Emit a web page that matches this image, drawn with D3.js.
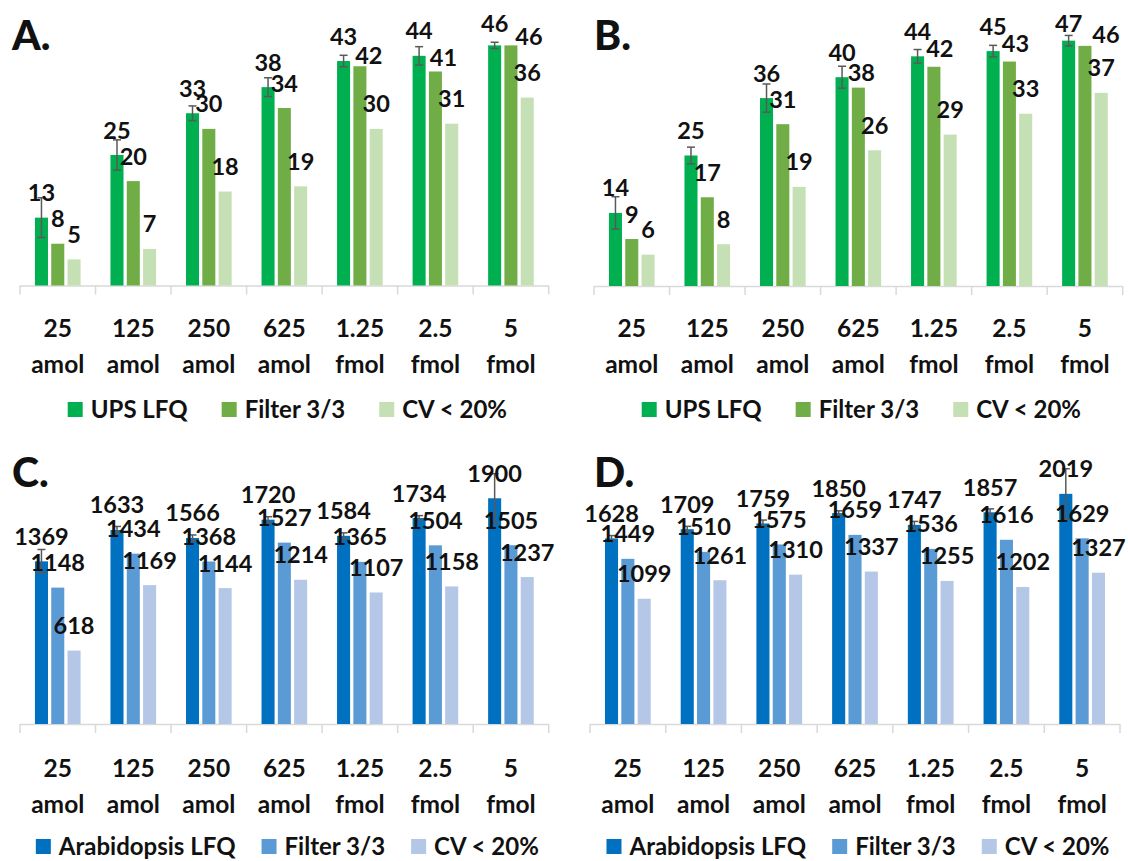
<!DOCTYPE html>
<html>
<head>
<meta charset="utf-8">
<script src="https://cdn.jsdelivr.net/npm/d3@7"></script>
<style>
  html, body { margin: 0; padding: 0; background: #fff; }
  svg { display: block; }
</style>
</head>
<body>
<svg id="chart" width="1128" height="861"></svg>
<script>
// ---------- data ----------
const catTop = ["25", "125", "250", "625", "1.25", "2.5", "5"];
const catBottom = ["amol", "amol", "amol", "amol", "fmol", "fmol", "fmol"];

const seriesNamesUPS = ["UPS LFQ", "Filter 3/3", "CV < 20%"];
const seriesNamesAra = ["Arabidopsis LFQ", "Filter 3/3", "CV < 20%"];

// Panel A
const aLFQ    = [13, 25, 33, 38, 43, 44, 46];
const aFilter = [8, 20, 30, 34, 42, 41, 46];
const aCV     = [5, 7, 18, 19, 30, 31, 36];
const aErr    = [3.8, 2.9, 1.4, 1.8, 1.1, 1.75, 0.6];

// Panel B
const bLFQ    = [14, 25, 36, 40, 44, 45, 47];
const bFilter = [9, 17, 31, 38, 42, 43, 46];
const bCV     = [6, 8, 19, 26, 29, 33, 37];
const bErr    = [3.1, 1.6, 2.7, 2.1, 1.3, 1.1, 1.0];

// Panel C
const cLFQ    = [1369, 1633, 1566, 1720, 1584, 1734, 1900];
const cFilter = [1148, 1434, 1368, 1527, 1365, 1504, 1505];
const cCV     = [618, 1169, 1144, 1214, 1107, 1158, 1237];
const cErr    = [100, 30, 25, 25, 25, 20, 207];

// Panel D
const dLFQ    = [1628, 1709, 1759, 1850, 1747, 1857, 2019];
const dFilter = [1449, 1510, 1575, 1659, 1536, 1616, 1629];
const dCV     = [1099, 1261, 1310, 1337, 1255, 1202, 1327];
const dErr    = [25, 25, 30, 20, 30, 30, 220];

// ---------- styling / layout ----------
const greens = ["#00b050", "#70ad47", "#c5e0b4"];
const blues  = ["#0070c0", "#5b9bd5", "#b4c7e7"];
const FONT = "Lato, 'Open Sans', sans-serif";

// manual label nudges (series index 1 = Filter) [dx, dy] per category
const nudgeA = {1: {4: [9, 14], 5: [8, 11], 6: [18, 16]}};
const nudgeB = {1: {3: [3, 10], 4: [6, 7], 5: [6, 7], 6: [21, 14]}};

const panels = [
  {letter: "A.", lx: 12, ly: 50, x0: 20, x1: 548.7, axisY: 285.5, yMax: 50, yPx: 261,
   series: [aLFQ, aFilter, aCV], err: aErr, colors: greens, names: seriesNamesUPS,
   nudge: nudgeA, minBase: 32, catY: 337, legY: 410, legGap: 34},
  {letter: "B.", lx: 594, ly: 50, x0: 594, x1: 1122.7, axisY: 286, yMax: 50, yPx: 261,
   series: [bLFQ, bFilter, bCV], err: bErr, colors: greens, names: seriesNamesUPS,
   nudge: nudgeB, minBase: 32, catY: 337, legY: 410, legGap: 34},
  {letter: "C.", lx: 12, ly: 487, x0: 20, x1: 548.7, axisY: 724, yMax: 2000, yPx: 237.6,
   series: [cLFQ, cFilter, cCV], err: cErr, colors: blues, names: seriesNamesAra,
   nudge: {}, minBase: 470, catY: 777, legY: 847, legGap: 26},
  {letter: "D.", lx: 594, ly: 487, x0: 590, x1: 1120, axisY: 724, yMax: 2000, yPx: 228,
   series: [dLFQ, dFilter, dCV], err: dErr, colors: blues, names: seriesNamesAra,
   nudge: {}, minBase: 470, catY: 777, legY: 847, legGap: 26}
];

const svg = d3.select("#chart");

panels.forEach(p => {
  const g = svg.append("g");
  const x = d3.scaleBand().domain(catTop).range([p.x0, p.x1]).paddingInner(0).paddingOuter(0);
  const xs = d3.scaleBand().domain([0, 1, 2]).range([0, x.bandwidth()])
    .paddingInner(0.2).paddingOuter(0.917);
  const y = d3.scaleLinear().domain([0, p.yMax]).range([p.axisY, p.axisY - p.yPx]);

  // axis line + boundary ticks
  g.append("line").attr("x1", p.x0).attr("x2", p.x1)
    .attr("y1", p.axisY + 0.5).attr("y2", p.axisY + 0.5)
    .attr("stroke", "#d9d9d9").attr("stroke-width", 1.5);
  const bounds = catTop.map(c => x(c)).concat([p.x1]);
  g.selectAll(".tk").data(bounds).enter().append("line")
    .attr("x1", d => d).attr("x2", d => d)
    .attr("y1", p.axisY).attr("y2", p.axisY + 9)
    .attr("stroke", "#d9d9d9").attr("stroke-width", 1.5);

  // bars
  p.series.forEach((vals, si) => {
    g.selectAll(".bar" + si).data(vals).enter().append("rect")
      .attr("x", (d, i) => x(catTop[i]) + xs(si))
      .attr("y", d => y(d))
      .attr("width", xs.bandwidth())
      .attr("height", d => y(0) - y(d))
      .attr("fill", p.colors[si]);
  });

  // error bars on first series
  const eb = g.selectAll(".eb").data(p.series[0]).enter().append("g")
    .attr("stroke", "#595959").attr("stroke-width", 1.5);
  eb.each(function(d, i) {
    const cx = x(catTop[i]) + xs(0) + xs.bandwidth() / 2;
    const e = p.err[i];
    const s = d3.select(this);
    s.append("line").attr("x1", cx).attr("x2", cx).attr("y1", y(d + e)).attr("y2", y(d - e));
    s.append("line").attr("x1", cx - 4).attr("x2", cx + 4).attr("y1", y(d + e)).attr("y2", y(d + e));
    s.append("line").attr("x1", cx - 4).attr("x2", cx + 4).attr("y1", y(d - e)).attr("y2", y(d - e));
  });

  // data labels
  p.series.forEach((vals, si) => {
    g.selectAll(".lab" + si).data(vals).enter().append("text")
      .attr("x", (d, i) => {
        const n = (p.nudge[si] && p.nudge[si][i]) ? p.nudge[si][i][0] : 0;
        return x(catTop[i]) + xs(si) + xs.bandwidth() / 2 + n;
      })
      .attr("y", (d, i) => {
        const n = (p.nudge[si] && p.nudge[si][i]) ? p.nudge[si][i][1] : 0;
        return Math.max(p.minBase, y(d) - 16.5 + n);
      })
      .attr("text-anchor", "middle")
      .attr("font-family", FONT).attr("font-weight", "bold").attr("font-size", 23.5)
      .attr("fill", "#111")
      .text(d => d);
  });

  // category labels
  const cl = g.selectAll(".cl").data(catTop).enter().append("text")
    .attr("text-anchor", "middle")
    .attr("font-family", FONT).attr("font-weight", "bold").attr("font-size", 24.5)
    .attr("fill", "#111");
  cl.append("tspan").attr("x", d => x(d) + x.bandwidth() / 2).attr("y", p.catY).text(d => d);
  cl.append("tspan").attr("x", d => x(d) + x.bandwidth() / 2).attr("y", p.catY + 36)
    .text((d, i) => catBottom[i]);

  // panel letter
  g.append("text").attr("x", p.lx).attr("y", p.ly)
    .attr("font-family", FONT).attr("font-weight", "900").attr("font-size", 41)
    .attr("fill", "#111").text(p.letter);

  // legend
  const leg = g.append("g");
  let cx = 0;
  p.names.forEach((nm, i) => {
    const it = leg.append("g");
    it.append("rect").attr("x", cx).attr("y", -8).attr("width", 15).attr("height", 15)
      .attr("fill", p.colors[i]);
    const t = it.append("text").attr("x", cx + 23).attr("y", 8)
      .attr("font-family", FONT).attr("font-weight", "bold").attr("font-size", 24)
      .attr("fill", "#111").text(nm);
    const w = t.node().getComputedTextLength();
    cx += 23 + w + (i < 2 ? p.legGap : 0);
  });
  const center = (p.x0 + p.x1) / 2 + 3;
  leg.attr("transform", `translate(${center - cx / 2},${p.legY})`);
});
</script>
</body>
</html>
